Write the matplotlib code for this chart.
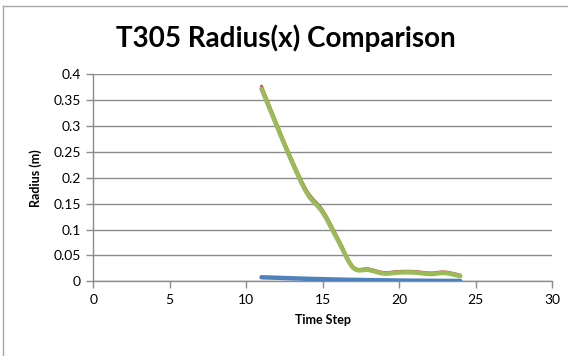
import matplotlib
matplotlib.use("Agg")
import matplotlib.pyplot as plt
import numpy as np
from matplotlib.path import Path
from matplotlib.patches import PathPatch
from matplotlib.lines import Line2D

# Radius values per time step
time_steps = [11, 12, 13, 14, 15, 16, 17, 18, 19, 20, 21, 22, 23, 24]
radius_blue = [0.0078, 0.0068, 0.0058, 0.0049, 0.0041, 0.0034, 0.0028,
               0.0023, 0.0019, 0.0015, 0.0012, 0.0010, 0.0008, 0.0007]
radius_red = [0.377, 0.304, 0.234, 0.173, 0.137, 0.083, 0.028,
              0.024, 0.017, 0.019, 0.019, 0.016, 0.018, 0.012]
radius_green = [0.372, 0.300, 0.230, 0.169, 0.133, 0.079, 0.026,
                0.022, 0.015, 0.017, 0.017, 0.014, 0.016, 0.010]

x_ticks = [0, 5, 10, 15, 20, 25, 30]
y_ticks = [0, 0.05, 0.1, 0.15, 0.2, 0.25, 0.3, 0.35, 0.4]
y_tick_labels = ["0", "0.05", "0.1", "0.15", "0.2", "0.25", "0.3", "0.35", "0.4"]

FONT = ["Lato", "DejaVu Sans"]


def smooth_path(xs, ys):
    """Cubic Bezier path through the points (Catmull-Rom style control points)."""
    xs = np.asarray(xs, float)
    ys = np.asarray(ys, float)
    n = len(xs)
    verts = [(xs[0], ys[0])]
    codes = [Path.MOVETO]
    t = 1.0 / 6.0
    for i in range(n - 1):
        p0 = (xs[max(i - 1, 0)], ys[max(i - 1, 0)])
        p1 = (xs[i], ys[i])
        p2 = (xs[i + 1], ys[i + 1])
        p3 = (xs[min(i + 2, n - 1)], ys[min(i + 2, n - 1)])
        c1 = (p1[0] + (p2[0] - p0[0]) * t, p1[1] + (p2[1] - p0[1]) * t)
        c2 = (p2[0] - (p3[0] - p1[0]) * t, p2[1] - (p3[1] - p1[1]) * t)
        verts += [c1, c2, p2]
        codes += [Path.CURVE4] * 3
    return Path(verts, codes)


fig = plt.figure(figsize=(5.68, 3.56), dpi=100)
ax = fig.add_axes([93.3 / 568, 1 - 281.3 / 356, (552 - 93.3) / 568, (281.3 - 74.3) / 356])

grid_c = "#8c8c8c"
ax.set_xlim(0, 30)
ax.set_ylim(0, 0.4)
ax.set_xticks(x_ticks)
ax.set_yticks(y_ticks)
ax.set_yticklabels(y_tick_labels)
ax.yaxis.grid(True, color=grid_c, linewidth=1.0)
ax.set_axisbelow(True)
for s in ["top", "right"]:
    ax.spines[s].set_visible(False)
for s in ["left", "bottom"]:
    ax.spines[s].set_color(grid_c)
    ax.spines[s].set_linewidth(1.0)
ax.tick_params(axis="both", direction="out", length=5, width=1.0, color=grid_c,
               labelsize=10, pad=4)
for lab in ax.get_xticklabels() + ax.get_yticklabels():
    lab.set_fontfamily(FONT)

series = [
    (radius_blue, "#4F81BD", 3.2),
    (radius_red, "#C0504D", 2.2),
    (radius_green, "#9BBB59", 3.2),
]
for vals, col, lw in series:
    patch = PathPatch(smooth_path(time_steps, vals), facecolor="none",
                      edgecolor=col, linewidth=lw, capstyle="round",
                      joinstyle="round", zorder=3)
    ax.add_patch(patch)

ax.set_xlabel("Time Step", fontsize=9, fontweight="bold", family=FONT, labelpad=6)
ax.set_ylabel("Radius (m)", fontsize=9, fontweight="bold", family=FONT, labelpad=8)

fig.text(0.503, 1 - 38 / 356, "T305 Radius(x) Comparison", ha="center", va="center",
         fontsize=20, fontweight="bold", family=FONT)

# chart area border
fig.add_artist(Line2D([3.5 / 568, 3.5 / 568], [0, 1 - 5.5 / 356], transform=fig.transFigure,
                      color="#a6a6a6", linewidth=1.0))
fig.add_artist(Line2D([3.5 / 568, 1], [1 - 5.5 / 356, 1 - 5.5 / 356], transform=fig.transFigure,
                      color="#a6a6a6", linewidth=1.0))

fig.savefig("out.png", dpi=100)
